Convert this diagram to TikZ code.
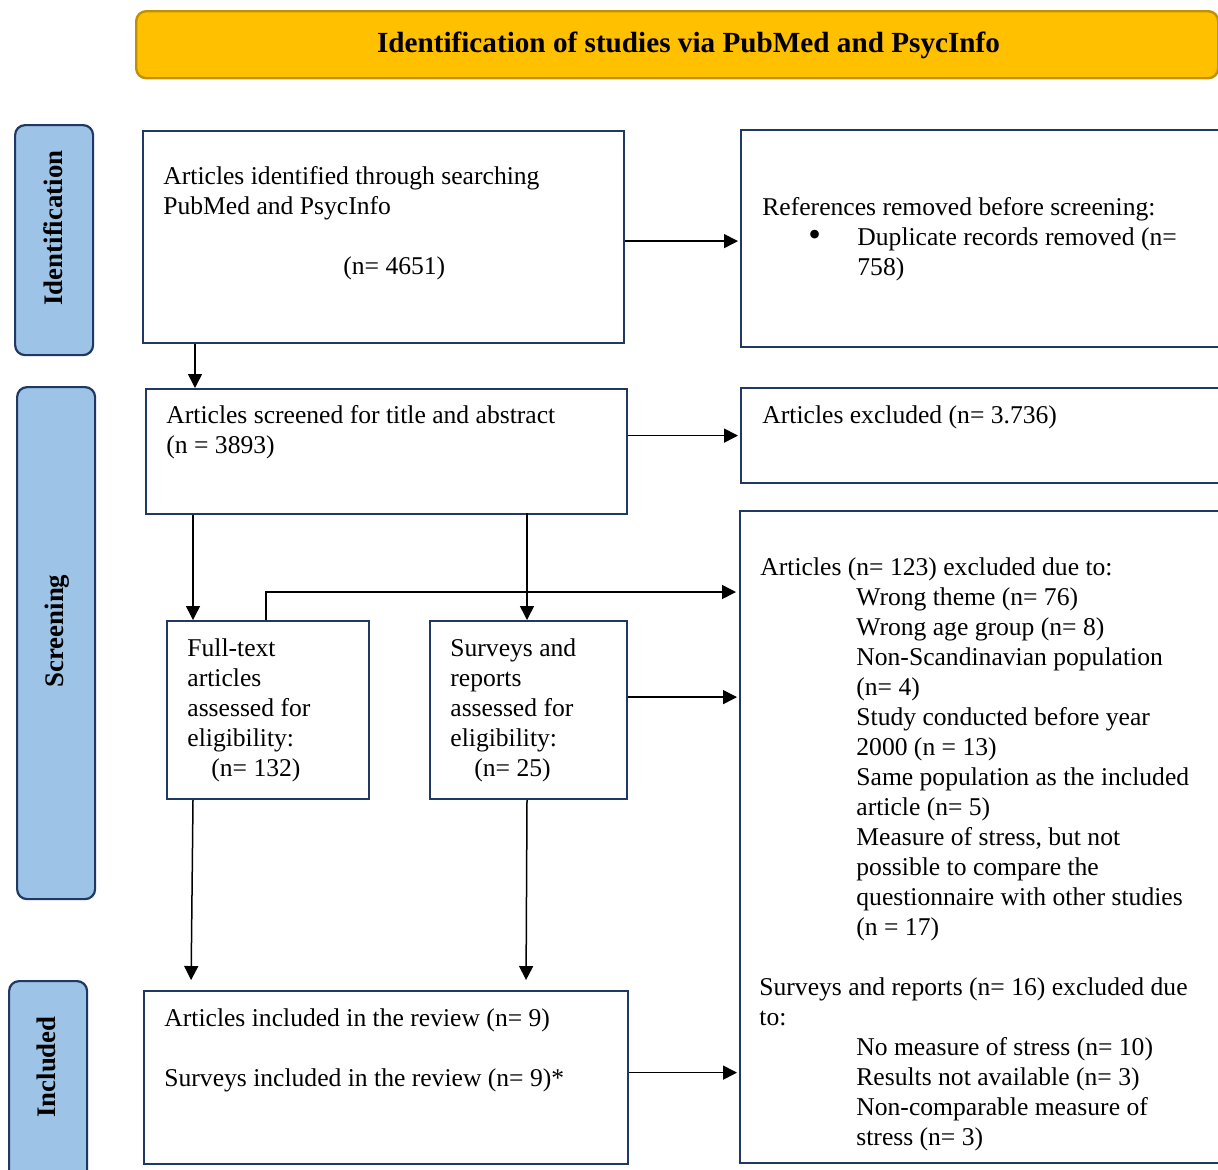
\documentclass[tikz,border=0pt]{standalone}
\usepackage{fontspec}
\setmainfont{Liberation Serif}
\usetikzlibrary{arrows.meta}
\definecolor{navy}{HTML}{1F3864}
\definecolor{sideblue}{HTML}{9DC3E6}
\definecolor{gold}{HTML}{FFC000}
\definecolor{golddark}{HTML}{BF9000}
\begin{document}
\begin{tikzpicture}[x=0.5pt,y=-0.5pt,
  box/.style={draw=navy,line width=1.1pt,inner sep=0,anchor=north west},
  side/.style={draw=navy,fill=sideblue,line width=1.1pt,rounded corners=5pt,inner sep=0,anchor=north west,minimum width=39pt},
  txt/.style={inner sep=0,anchor=base west,font=\fontsize{12.8}{15}\selectfont},
  sidetxt/.style={inner sep=0,rotate=90,font=\fontsize{13.4}{16}\selectfont\bfseries},
  arr/.style={-{Triangle[length=7pt,width=7pt]},line width=0.75pt}]
\useasboundingbox (0,0) rectangle (1218,1169);
\clip (0,0) rectangle (1218,1169);

% header
\node[draw=golddark,fill=gold,line width=1.2pt,rounded corners=5pt,inner sep=0,
      minimum width=541pt,minimum height=33.5pt,anchor=north west] (head) at (135,10) {};
\node[inner sep=0,font=\fontsize{14.6}{17}\selectfont\bfseries] (headtxt) at (688.5,45) {Identification of studies via PubMed and PsycInfo};

% side labels
\node[side,minimum height=115pt] (sideI) at (14,124) {};
\node[side,minimum height=256pt] (sideS) at (16,386) {};
\node[side,minimum height=100pt] (sideN) at (8,980) {};
\node[sidetxt] (sideItxt) at (53,228) {Identification};
\node[sidetxt] (sideStxt) at (57,631) {Screening};
\node[sidetxt] (sideNtxt) at (46,1067) {Included};

% boxes
\node[box,minimum width=240.5pt,minimum height=106pt] (A) at (142,130) {};
\node[box,minimum width=245pt,minimum height=108.5pt] (B) at (740,129) {};
\node[box,minimum width=240.5pt,minimum height=62.5pt] (C) at (145,388) {};
\node[box,minimum width=245pt,minimum height=47.5pt] (D) at (740,387) {};
\node[box,minimum width=101pt,minimum height=89pt] (E) at (166,620) {};
\node[box,minimum width=98.5pt,minimum height=89pt] (F) at (429,620) {};
\node[box,minimum width=245pt,minimum height=326pt] (G) at (739,510) {};
\node[box,minimum width=242pt,minimum height=86.5pt] (H) at (143,990) {};

% texts
\node[txt] (Atxt) at (163,184) {\begin{tabular}[t]{@{}l@{}}Articles identified through searching\\ PubMed and PsycInfo\\ \\ \hspace*{90pt}(n= 4651)\end{tabular}};
\node[txt] (Btxt) at (762,215) {\begin{tabular}[t]{@{}l@{}}References removed before screening:\\ \makebox[47.5pt][l]{\hspace*{23pt}\raisebox{-0.8pt}{\fontsize{18}{15}\selectfont\textbullet}}Duplicate records removed (n=\\ \hspace*{47.5pt}758)\end{tabular}};
\node[txt] (Ctxt) at (166,423) {\begin{tabular}[t]{@{}l@{}}Articles screened for title and abstract\\ (n = 3893)\end{tabular}};
\node[txt] (Dtxt) at (762,423) {Articles excluded (n= 3.736)};
\node[txt] (Etxt) at (187,656) {\begin{tabular}[t]{@{}l@{}}Full-text\\ articles\\ assessed for\\ eligibility:\\ \hspace*{12pt}(n= 132)\end{tabular}};
\node[txt] (Ftxt) at (450,656) {\begin{tabular}[t]{@{}l@{}}Surveys and\\ reports\\ assessed for\\ eligibility:\\ \hspace*{12pt}(n= 25)\end{tabular}};
\node[txt] (Gtxt) at (760,575) {\begin{tabular}[t]{@{}l@{}}Articles (n= 123) excluded due to:\\
 \hspace*{48pt}Wrong theme (n= 76)\\
 \hspace*{48pt}Wrong age group (n= 8)\\
 \hspace*{48pt}Non-Scandinavian population\\
 \hspace*{48pt}(n= 4)\\
 \hspace*{48pt}Study conducted before year\\
 \hspace*{48pt}2000 (n = 13)\\
 \hspace*{48pt}Same population as the included\\
 \hspace*{48pt}article (n= 5)\\
 \hspace*{48pt}Measure of stress, but not\\
 \hspace*{48pt}possible to compare the\\
 \hspace*{48pt}questionnaire with other studies\\
 \hspace*{48pt}(n = 17)\end{tabular}};
\node[txt] (G2txt) at (759,995) {\begin{tabular}[t]{@{}l@{}}Surveys and reports (n= 16) excluded due\\ to:\\
 \hspace*{48.5pt}No measure of stress (n= 10)\\
 \hspace*{48.5pt}Results not available (n= 3)\\
 \hspace*{48.5pt}Non-comparable measure of\\
 \hspace*{48.5pt}stress (n= 3)\end{tabular}};
\node[txt] (Htxt) at (164,1026) {\begin{tabular}[t]{@{}l@{}}Articles included in the review (n= 9)\\ \\ Surveys included in the review (n= 9)*\end{tabular}};

% connectors
\draw[arr,shorten >=1pt] ([yshift=-2pt]A.east) -- ([yshift=-2pt]A.east -| B.west);
\draw[arr] (A.south west) ++(53,0) coordinate (a1) -- (a1 |- C.north);
\draw[arr,shorten >=1pt] (C.east |- D.west) -- (D.west);
\draw[arr] (C.south west) ++(48,0) coordinate (c1) -- (c1 |- E.north);
\draw[arr] (C.south west) ++(382,-2) coordinate (c2) -- (c2 |- F.north);
\draw[arr,shorten >=1.5pt] (E.north west) ++(100,0) -- ++(0,-28) coordinate (e1) -- (e1 -| G.west);
\draw[arr,shorten >=1pt] ([yshift=6.5pt]F.east) -- ([yshift=6.5pt]F.east -| G.west);
\draw[arr,shorten >=5pt] (E.south west) ++(27,0) coordinate (e2) -- ([xshift=-1pt]e2 |- H.north);
\draw[arr,shorten >=5pt] (F.south west) ++(98,0) coordinate (f2) -- ([xshift=-0.5pt]f2 |- H.north);
\draw[arr,shorten >=1pt] ([yshift=2.5pt]H.east) -- ([yshift=2.5pt]H.east -| G.west);
\end{tikzpicture}
\end{document}
